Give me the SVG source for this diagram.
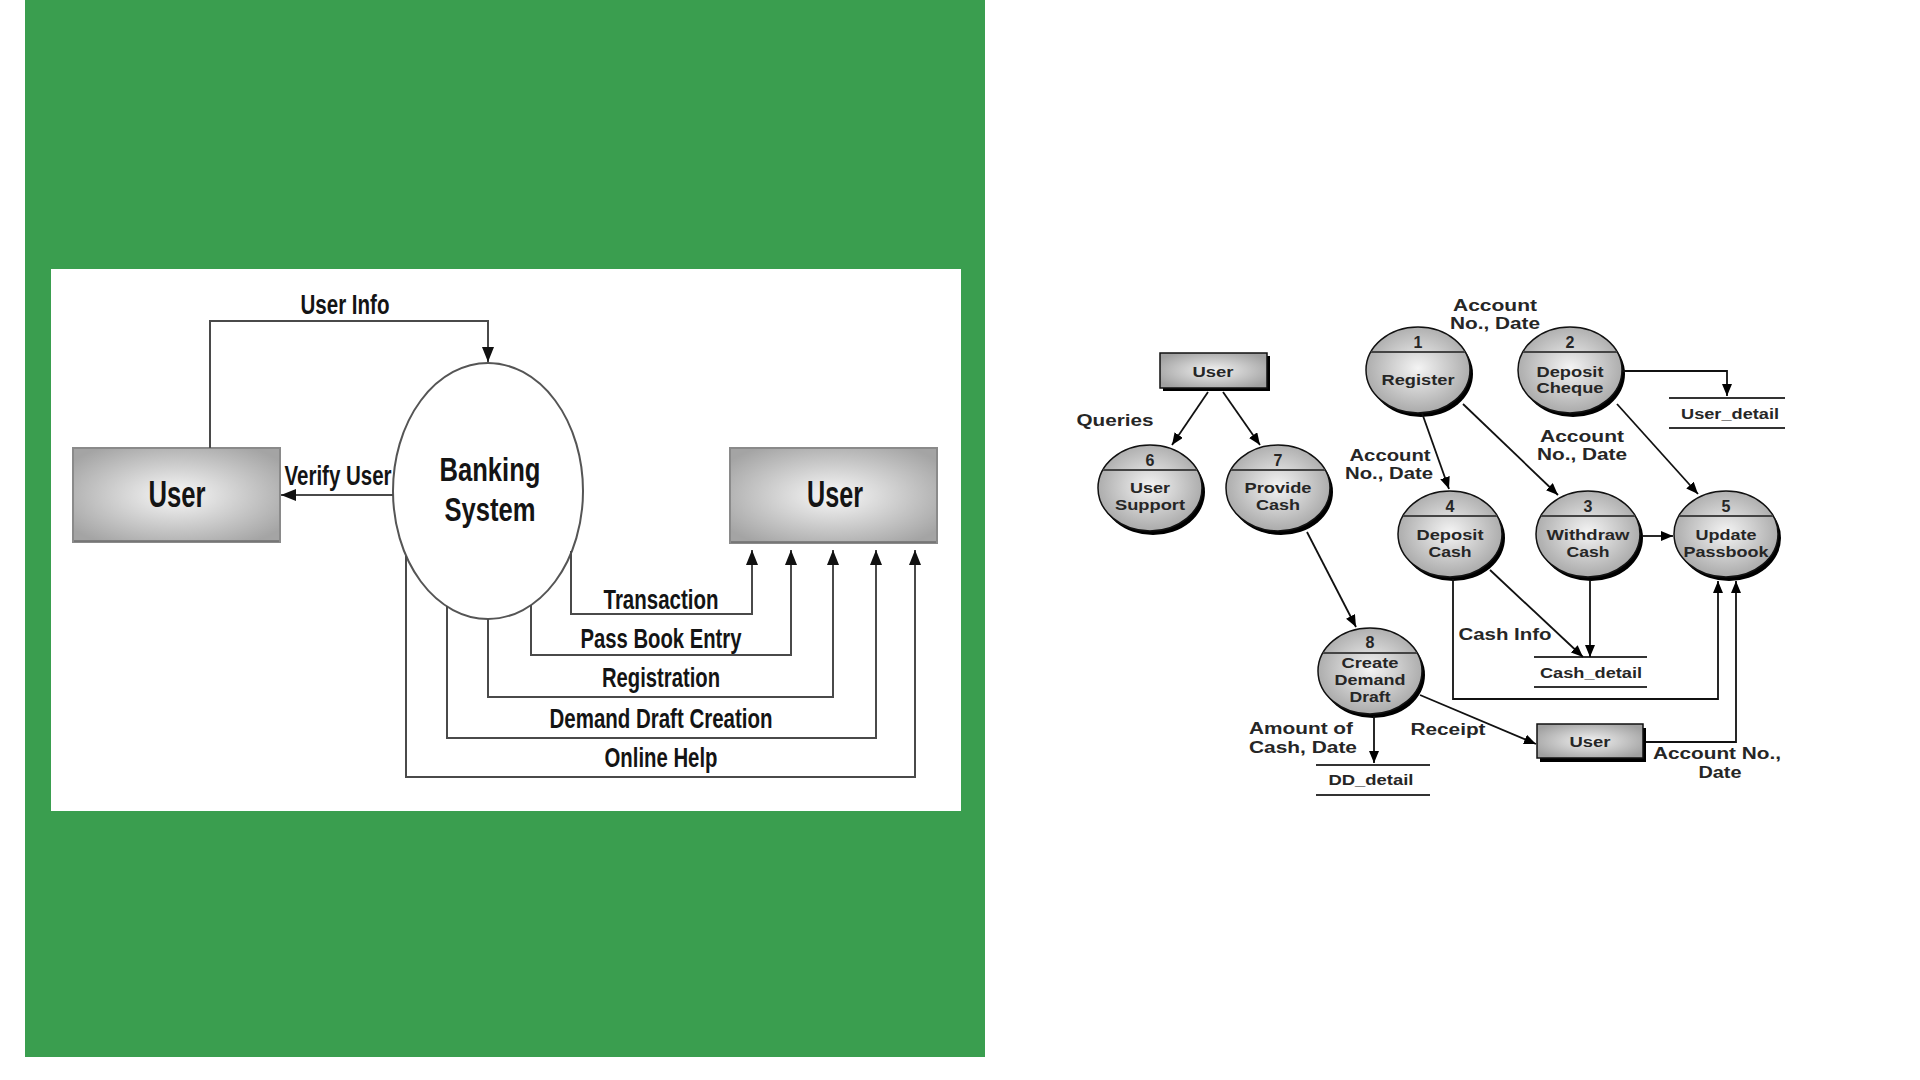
<svg xmlns="http://www.w3.org/2000/svg" width="1920" height="1080" viewBox="0 0 1920 1080">
<defs>
  <radialGradient id="boxL" cx="50%" cy="50%" r="62%">
    <stop offset="0" stop-color="#f8f8f8"/>
    <stop offset="1" stop-color="#a4a4a4"/>
  </radialGradient>
  <radialGradient id="bub" cx="50%" cy="48%" r="55%">
    <stop offset="0" stop-color="#f4f4f4"/>
    <stop offset="1" stop-color="#a6a6a6"/>
  </radialGradient>
  <radialGradient id="boxR" cx="50%" cy="50%" r="60%">
    <stop offset="0" stop-color="#f2f2f2"/>
    <stop offset="1" stop-color="#a0a0a0"/>
  </radialGradient>
  <marker id="aL" viewBox="0 0 15 12" refX="15" refY="6" markerWidth="15" markerHeight="12" orient="auto" markerUnits="userSpaceOnUse">
    <path d="M0,0 L15,6 L0,12 z" fill="#111"/>
  </marker>
  <marker id="aR" viewBox="0 0 12 10" refX="12" refY="5" markerWidth="12" markerHeight="10" orient="auto" markerUnits="userSpaceOnUse">
    <path d="M0,0 L12,5 L0,10 z" fill="#000"/>
  </marker>
</defs>
<style>
  .lt{font-family:"Liberation Sans",Arial,sans-serif;font-weight:bold;fill:#141414;text-anchor:middle;lengthAdjust:spacingAndGlyphs}
  .rt{font-family:"Liberation Sans",Arial,sans-serif;font-weight:bold;fill:#262626;text-anchor:middle}
  .lc{fill:none;stroke:#4a4a4a;stroke-width:2}
  .rc{fill:none;stroke:#111;stroke-width:1.8}
  .lbox{fill:url(#boxL);stroke:#8a8a8a;stroke-width:2}
  .shadow{fill:#000}
  .bubble{fill:url(#bub);stroke:#111;stroke-width:1.5}
  .sep{stroke:#444;stroke-width:2}
  .store{stroke:#333;stroke-width:2}
  .num{font-size:16px}
  .cl{font-size:15px}
  .ol{font-size:16px}
</style>

<!-- background panels -->
<rect x="0" y="0" width="1920" height="1080" fill="#ffffff"/>
<rect x="25" y="0" width="960" height="1057" fill="#3a9e4f"/>
<rect x="51" y="269" width="910" height="542" fill="#ffffff"/>

<!-- LEFT DIAGRAM: nodes -->
<g id="left-user-src">
  <rect class="lbox" x="73" y="448" width="207" height="94"/>
  <line x1="74" y1="541" x2="279" y2="541" stroke="#6f6f6f" stroke-width="1.5"/>
  <text class="lt" x="177" y="507" font-size="36" textLength="57" lengthAdjust="spacingAndGlyphs">User</text>
</g>
<g id="banking-system">
  <ellipse cx="488" cy="491" rx="95" ry="128" fill="#ffffff" stroke="#555" stroke-width="2"/>
  <text class="lt" x="490" y="481" font-size="33" textLength="101" lengthAdjust="spacingAndGlyphs">Banking</text>
  <text class="lt" x="490" y="521" font-size="33" textLength="91" lengthAdjust="spacingAndGlyphs">System</text>
</g>
<g id="left-user-dst">
  <rect class="lbox" x="730" y="448" width="207" height="95"/>
  <line x1="731" y1="542" x2="936" y2="542" stroke="#6f6f6f" stroke-width="1.5"/>
  <text class="lt" x="835" y="507" font-size="36" textLength="56" lengthAdjust="spacingAndGlyphs">User</text>
</g>

<!-- LEFT DIAGRAM: connectors -->
<g id="left-connectors">
  <path class="lc" d="M210,448 V321 H488 V362" marker-end="url(#aL)"/>
  <path class="lc" d="M393,495 H281" marker-end="url(#aL)"/>
  <path class="lc" d="M571,551 V614 H752 V550" marker-end="url(#aL)"/>
  <path class="lc" d="M531,605 V655 H791 V550" marker-end="url(#aL)"/>
  <path class="lc" d="M488,619 V697 H833 V550" marker-end="url(#aL)"/>
  <path class="lc" d="M447,606 V738 H876 V550" marker-end="url(#aL)"/>
  <path class="lc" d="M406,556 V777 H915 V550" marker-end="url(#aL)"/>
  <text class="lt" x="345" y="314" font-size="28" textLength="89" lengthAdjust="spacingAndGlyphs">User Info</text>
  <text class="lt" x="338" y="485" font-size="27" textLength="107" lengthAdjust="spacingAndGlyphs">Verify User</text>
  <text class="lt" x="661" y="609" font-size="28" textLength="115" lengthAdjust="spacingAndGlyphs">Transaction</text>
  <text class="lt" x="661" y="648" font-size="28" textLength="161" lengthAdjust="spacingAndGlyphs">Pass Book Entry</text>
  <text class="lt" x="661" y="687" font-size="28" textLength="118" lengthAdjust="spacingAndGlyphs">Registration</text>
  <text class="lt" x="661" y="728" font-size="28" textLength="223" lengthAdjust="spacingAndGlyphs">Demand Draft Creation</text>
  <text class="lt" x="661" y="767" font-size="28" textLength="113" lengthAdjust="spacingAndGlyphs">Online Help</text>
</g>

<!-- RIGHT DIAGRAM: nodes -->
<g id="user-top">
  <rect class="shadow" x="1163" y="356" width="107" height="35"/>
  <rect x="1160" y="353" width="107" height="35" fill="url(#boxR)" stroke="#111" stroke-width="1.5"/>
  <text class="rt" x="1213" y="377" font-size="15" textLength="41" lengthAdjust="spacingAndGlyphs">User</text>
</g>
<g id="p6" transform="translate(1150,488)">
  <ellipse class="shadow" cx="3" cy="4" rx="52" ry="43"/>
  <ellipse class="bubble" rx="52" ry="43"/>
  <line class="sep" x1="-47" y1="-18" x2="47" y2="-18"/>
  <text class="rt num" y="-22">6</text>
  <text class="rt cl" y="5" textLength="40" lengthAdjust="spacingAndGlyphs">User</text>
  <text class="rt cl" y="22" textLength="70" lengthAdjust="spacingAndGlyphs">Support</text>
</g>
<g id="p7" transform="translate(1278,488)">
  <ellipse class="shadow" cx="3" cy="4" rx="52" ry="43"/>
  <ellipse class="bubble" rx="52" ry="43"/>
  <line class="sep" x1="-47" y1="-18" x2="47" y2="-18"/>
  <text class="rt num" y="-22">7</text>
  <text class="rt cl" y="5" textLength="67" lengthAdjust="spacingAndGlyphs">Provide</text>
  <text class="rt cl" y="22" textLength="44" lengthAdjust="spacingAndGlyphs">Cash</text>
</g>
<g id="p1" transform="translate(1418,370)">
  <ellipse class="shadow" cx="3" cy="4" rx="52" ry="43"/>
  <ellipse class="bubble" rx="52" ry="43"/>
  <line class="sep" x1="-47" y1="-18" x2="47" y2="-18"/>
  <text class="rt num" y="-22">1</text>
  <text class="rt cl" y="15" textLength="73" lengthAdjust="spacingAndGlyphs">Register</text>
</g>
<g id="p2" transform="translate(1570,370)">
  <ellipse class="shadow" cx="3" cy="4" rx="52" ry="43"/>
  <ellipse class="bubble" rx="52" ry="43"/>
  <line class="sep" x1="-47" y1="-18" x2="47" y2="-18"/>
  <text class="rt num" y="-22">2</text>
  <text class="rt cl" y="7" textLength="67" lengthAdjust="spacingAndGlyphs">Deposit</text>
  <text class="rt cl" y="23" textLength="67" lengthAdjust="spacingAndGlyphs">Cheque</text>
</g>
<g id="p4" transform="translate(1450,534)">
  <ellipse class="shadow" cx="3" cy="4" rx="52" ry="43"/>
  <ellipse class="bubble" rx="52" ry="43"/>
  <line class="sep" x1="-47" y1="-18" x2="47" y2="-18"/>
  <text class="rt num" y="-22">4</text>
  <text class="rt cl" y="6" textLength="67" lengthAdjust="spacingAndGlyphs">Deposit</text>
  <text class="rt cl" y="23" textLength="43" lengthAdjust="spacingAndGlyphs">Cash</text>
</g>
<g id="p3" transform="translate(1588,534)">
  <ellipse class="shadow" cx="3" cy="4" rx="52" ry="43"/>
  <ellipse class="bubble" rx="52" ry="43"/>
  <line class="sep" x1="-47" y1="-18" x2="47" y2="-18"/>
  <text class="rt num" y="-22">3</text>
  <text class="rt cl" y="6" textLength="83" lengthAdjust="spacingAndGlyphs">Withdraw</text>
  <text class="rt cl" y="23" textLength="43" lengthAdjust="spacingAndGlyphs">Cash</text>
</g>
<g id="p5" transform="translate(1726,534)">
  <ellipse class="shadow" cx="3" cy="4" rx="52" ry="43"/>
  <ellipse class="bubble" rx="52" ry="43"/>
  <line class="sep" x1="-47" y1="-18" x2="47" y2="-18"/>
  <text class="rt num" y="-22">5</text>
  <text class="rt cl" y="6" textLength="61" lengthAdjust="spacingAndGlyphs">Update</text>
  <text class="rt cl" y="23" textLength="85" lengthAdjust="spacingAndGlyphs">Passbook</text>
</g>
<g id="p8" transform="translate(1370,671)">
  <ellipse class="shadow" cx="3" cy="4" rx="52" ry="43"/>
  <ellipse class="bubble" rx="52" ry="43"/>
  <line class="sep" x1="-47" y1="-18" x2="47" y2="-18"/>
  <text class="rt num" y="-23">8</text>
  <text class="rt cl" y="-3" textLength="57" lengthAdjust="spacingAndGlyphs">Create</text>
  <text class="rt cl" y="14" textLength="71" lengthAdjust="spacingAndGlyphs">Demand</text>
  <text class="rt cl" y="31" textLength="41" lengthAdjust="spacingAndGlyphs">Draft</text>
</g>
<g id="user-bottom">
  <rect class="shadow" x="1540" y="728" width="106" height="34"/>
  <rect x="1537" y="724" width="106" height="34" fill="url(#boxR)" stroke="#111" stroke-width="1.5"/>
  <text class="rt" x="1590" y="747" font-size="15" textLength="41" lengthAdjust="spacingAndGlyphs">User</text>
</g>
<g id="store-user-detail">
  <line class="store" x1="1669" y1="398" x2="1785" y2="398"/>
  <line class="store" x1="1669" y1="428" x2="1785" y2="428"/>
  <text class="rt" x="1730" y="419" font-size="14" textLength="98" lengthAdjust="spacingAndGlyphs">User_detail</text>
</g>
<g id="store-cash-detail">
  <line class="store" x1="1534" y1="657" x2="1647" y2="657"/>
  <line class="store" x1="1534" y1="687" x2="1647" y2="687"/>
  <text class="rt" x="1591" y="678" font-size="14" textLength="102" lengthAdjust="spacingAndGlyphs">Cash_detail</text>
</g>
<g id="store-dd-detail">
  <line class="store" x1="1316" y1="765" x2="1430" y2="765"/>
  <line class="store" x1="1316" y1="795" x2="1430" y2="795"/>
  <text class="rt" x="1371" y="785" font-size="14" textLength="85" lengthAdjust="spacingAndGlyphs">DD_detail</text>
</g>

<!-- RIGHT DIAGRAM: connectors -->
<g id="right-connectors">
  <path class="rc" d="M1208,392 L1172,445" marker-end="url(#aR)"/>
  <path class="rc" d="M1223,392 L1260,445" marker-end="url(#aR)"/>
  <path class="rc" d="M1307,532 L1356,627" marker-end="url(#aR)"/>
  <path class="rc" d="M1422,413 L1449,489" marker-end="url(#aR)"/>
  <path class="rc" d="M1463,404 L1558,495" marker-end="url(#aR)"/>
  <path class="rc" d="M1622,371 H1727 V396" marker-end="url(#aR)"/>
  <path class="rc" d="M1617,404 L1698,494" marker-end="url(#aR)"/>
  <path class="rc" d="M1642,536 H1673" marker-end="url(#aR)"/>
  <path class="rc" d="M1490,570 L1583,657" marker-end="url(#aR)"/>
  <path class="rc" d="M1590,580 V657" marker-end="url(#aR)"/>
  <path class="rc" d="M1453,579 V699 H1718 V581" marker-end="url(#aR)"/>
  <path class="rc" d="M1374,716 V763" marker-end="url(#aR)"/>
  <path class="rc" d="M1420,695 L1536,744" marker-end="url(#aR)"/>
  <path class="rc" d="M1646,742 H1736 V581" marker-end="url(#aR)"/>

  <text class="rt ol" x="1115" y="426" textLength="77" lengthAdjust="spacingAndGlyphs">Queries</text>
  <text class="rt ol" x="1495" y="311" textLength="84" lengthAdjust="spacingAndGlyphs">Account</text>
  <text class="rt ol" x="1495" y="329" textLength="90" lengthAdjust="spacingAndGlyphs">No., Date</text>
  <text class="rt ol" x="1390" y="461" textLength="81" lengthAdjust="spacingAndGlyphs">Account</text>
  <text class="rt ol" x="1389" y="479" textLength="88" lengthAdjust="spacingAndGlyphs">No., Date</text>
  <text class="rt ol" x="1582" y="442" textLength="84" lengthAdjust="spacingAndGlyphs">Account</text>
  <text class="rt ol" x="1582" y="460" textLength="90" lengthAdjust="spacingAndGlyphs">No., Date</text>
  <text class="rt ol" x="1505" y="640" textLength="93" lengthAdjust="spacingAndGlyphs">Cash Info</text>
  <text class="rt ol" x="1301" y="734" textLength="104" lengthAdjust="spacingAndGlyphs">Amount of</text>
  <text class="rt ol" x="1303" y="753" textLength="108" lengthAdjust="spacingAndGlyphs">Cash, Date</text>
  <text class="rt ol" x="1448" y="735" textLength="75" lengthAdjust="spacingAndGlyphs">Receipt</text>
  <text class="rt ol" x="1717" y="759" textLength="128" lengthAdjust="spacingAndGlyphs">Account No.,</text>
  <text class="rt ol" x="1720" y="778" textLength="43" lengthAdjust="spacingAndGlyphs">Date</text>
</g>
</svg>
